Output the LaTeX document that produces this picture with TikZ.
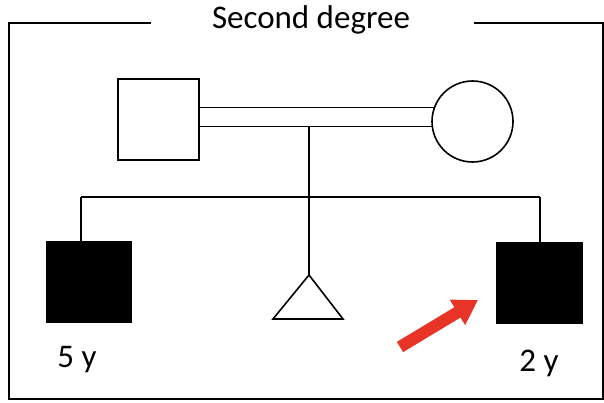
\documentclass[tikz,border=0pt]{standalone}
\usepackage{fontspec}
\setmainfont{Carlito}
\usetikzlibrary{arrows.meta}
\definecolor{arrowred}{RGB}{232,52,38}
\tikzset{
  frame/.style={line width=2.4pt, line cap=rect},
  person/.style={draw, line width=2.4pt, minimum size=81pt, inner sep=0pt, outer sep=0pt},
  affected/.style={person, fill=black, minimum width=84pt, minimum height=80pt},
  femalebox/.style={draw, circle, line width=1.6pt, minimum size=81pt, inner sep=0pt, outer sep=0pt},
  link/.style={line width=1.6pt},
  label/.style={font=\fontsize{33}{36}\selectfont, inner sep=0pt},
  titlelabel/.style={font=\fontsize{33}{36}\selectfont, inner sep=0pt}
}
\begin{document}
\begin{tikzpicture}[x=1pt,y=-1pt]
\useasboundingbox (0,0) rectangle (604,403);
% frame
\coordinate (fa) at (150,23);
\coordinate (fb) at (9,23);
\coordinate (fc) at (9,399);
\coordinate (fd) at (603,399);
\coordinate (fe) at (603,23);
\coordinate (ff) at (475,23);
\draw[frame] (fa) -- (fb) -- (fc) -- (fd) -- (fe) -- (ff);
\node[titlelabel, anchor=base] (title) at (311,29) {Second degree};
% parents
\node[person] (father) at (158.5,119.5) {};
\node[femalebox] (mother) at (472.5,121.5) {};
\draw[link] (father.east |- mother.160.5) -- (mother.160.5);
\draw[link] (father.east |- mother.187.8) -- (mother.187.8);
\coordinate (drop) at (309,127);
% children
\coordinate (sl) at (81,197);
\coordinate (sr) at (540,197);
\node[affected] (c1) at (89,282) {};
\node[affected] (c2) at (539.5,283) {};
\coordinate (apex) at (309,275);
\coordinate (tl) at (273,319);
\coordinate (tr) at (343,319);
\draw[link] (drop) -- (apex);
\draw[link] (sl) -- (sr);
\draw[link] (sl) -- (sl |- c1.north);
\draw[link] (sr) -- (sr |- c2.north);
\draw[link, line join=miter] (apex) -- (tr) -- (tl) -- cycle;
% labels
\node[label] (l1) at (77,360) {5 y};
\node[label] (l2) at (539,363) {2 y};
% arrow
\coordinate (as) at (400,347);
\coordinate (ae) at (478,300);
\draw[arrowred, line width=12pt, -{Triangle[length=24pt,width=28pt]}] (as) -- (ae);
\end{tikzpicture}
\end{document}
